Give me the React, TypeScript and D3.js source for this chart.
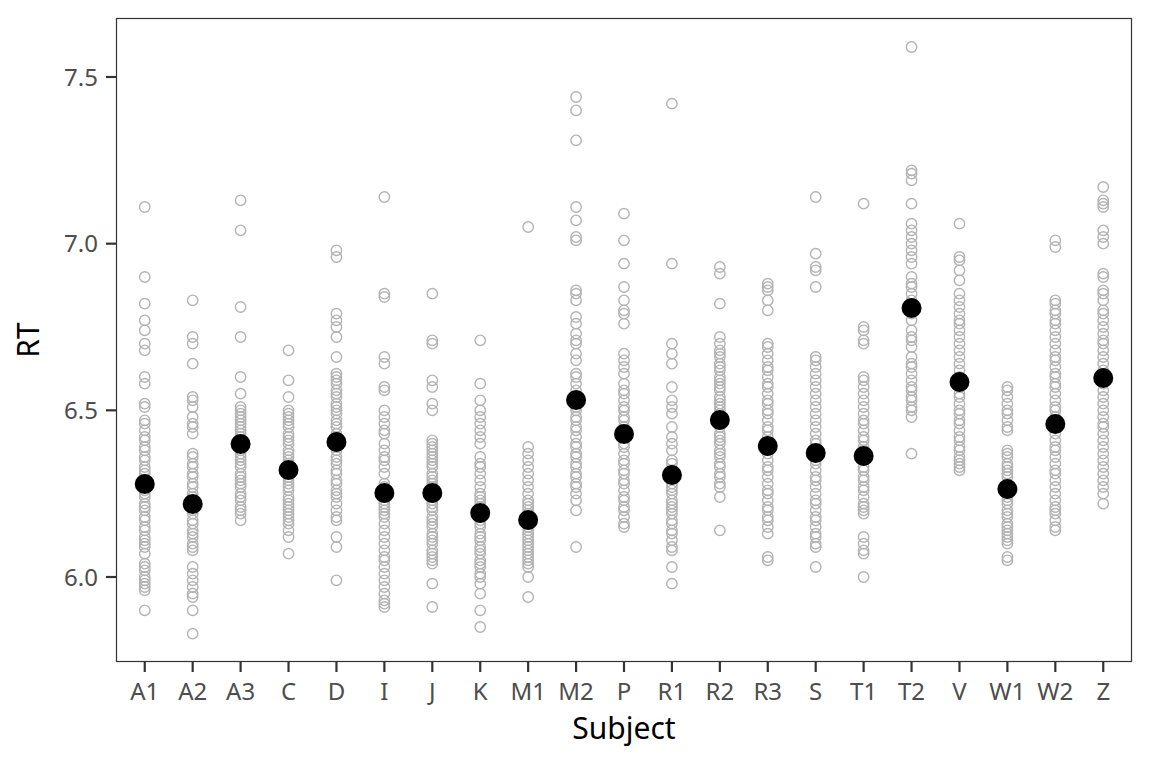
import React from "react";
import * as d3 from "d3";

const subjects = ["A1","A2","A3","C","D","I","J","K","M1","M2","P","R1","R2","R3","S","T1","T2","V","W1","W2","Z"];

const rtA1 = [7.11,6.90,6.82,6.77,6.74,6.70,6.68,6.60,6.58,6.52,6.51,6.47,6.46,6.44,6.42,6.41,6.39,6.38,6.36,6.35,6.33,6.32,6.31,6.29,6.28,6.26,6.25,6.24,6.22,6.21,6.20,6.18,6.17,6.15,6.14,6.12,6.11,6.10,6.09,6.07,6.04,6.03,6.02,6.00,5.99,5.98,5.97,5.96,5.90];
const rtA2 = [6.83,6.72,6.70,6.64,6.54,6.53,6.51,6.48,6.46,6.45,6.43,6.37,6.36,6.34,6.33,6.31,6.30,6.28,6.27,6.25,6.24,6.22,6.21,6.20,6.19,6.17,6.16,6.14,6.13,6.12,6.10,6.09,6.08,6.03,6.01,5.99,5.97,5.95,5.94,5.90,5.83];
const rtA3 = [7.13,7.04,6.81,6.72,6.60,6.55,6.51,6.50,6.49,6.48,6.47,6.46,6.45,6.44,6.43,6.42,6.41,6.40,6.39,6.38,6.37,6.36,6.35,6.34,6.33,6.31,6.30,6.29,6.28,6.27,6.25,6.24,6.23,6.21,6.20,6.19,6.17];
const rtC = [6.68,6.59,6.54,6.50,6.49,6.48,6.47,6.46,6.45,6.43,6.42,6.41,6.40,6.38,6.37,6.36,6.35,6.34,6.33,6.32,6.30,6.29,6.28,6.27,6.26,6.24,6.23,6.22,6.21,6.20,6.19,6.18,6.17,6.16,6.14,6.12,6.07];
const rtD = [6.98,6.96,6.79,6.77,6.75,6.72,6.66,6.61,6.60,6.59,6.58,6.56,6.55,6.54,6.52,6.51,6.50,6.49,6.47,6.46,6.45,6.43,6.42,6.41,6.39,6.38,6.36,6.35,6.34,6.32,6.31,6.29,6.28,6.26,6.25,6.24,6.22,6.20,6.18,6.17,6.12,6.09,5.99];
const rtI = [7.14,6.85,6.84,6.66,6.64,6.57,6.56,6.50,6.48,6.46,6.44,6.43,6.40,6.38,6.36,6.35,6.33,6.31,6.28,6.27,6.26,6.25,6.24,6.23,6.22,6.21,6.20,6.19,6.18,6.16,6.14,6.12,6.10,6.08,6.06,6.05,6.03,6.01,5.99,5.97,5.95,5.93,5.92,5.91];
const rtJ = [6.85,6.71,6.70,6.59,6.57,6.52,6.50,6.41,6.40,6.39,6.38,6.37,6.36,6.35,6.34,6.33,6.31,6.30,6.29,6.28,6.27,6.26,6.24,6.23,6.22,6.21,6.20,6.18,6.17,6.16,6.15,6.13,6.12,6.11,6.10,6.08,6.07,6.06,6.05,6.04,5.98,5.91];
const rtK = [6.71,6.58,6.53,6.50,6.48,6.46,6.44,6.42,6.40,6.36,6.34,6.33,6.31,6.29,6.27,6.25,6.24,6.23,6.22,6.21,6.19,6.18,6.17,6.16,6.15,6.13,6.12,6.11,6.09,6.08,6.07,6.05,6.04,6.03,6.01,6.00,5.98,5.95,5.90,5.85];
const rtM1 = [7.05,6.39,6.37,6.35,6.33,6.31,6.29,6.27,6.25,6.23,6.22,6.21,6.20,6.19,6.18,6.17,6.16,6.15,6.14,6.13,6.12,6.11,6.10,6.09,6.08,6.07,6.06,6.05,6.04,6.03,6.00,5.94];
const rtM2 = [7.44,7.40,7.31,7.11,7.07,7.02,7.01,6.86,6.85,6.83,6.78,6.76,6.73,6.71,6.70,6.67,6.65,6.61,6.60,6.58,6.56,6.54,6.53,6.51,6.50,6.48,6.47,6.45,6.44,6.42,6.40,6.39,6.37,6.36,6.34,6.33,6.31,6.30,6.28,6.27,6.25,6.23,6.20,6.09];
const rtP = [7.09,7.01,6.94,6.87,6.83,6.80,6.79,6.76,6.67,6.65,6.63,6.61,6.58,6.56,6.55,6.53,6.51,6.50,6.48,6.47,6.45,6.43,6.42,6.40,6.39,6.37,6.35,6.34,6.32,6.31,6.29,6.28,6.26,6.24,6.23,6.21,6.20,6.18,6.16,6.15];
const rtR1 = [7.42,6.94,6.70,6.67,6.64,6.57,6.53,6.51,6.49,6.45,6.42,6.40,6.38,6.35,6.34,6.32,6.31,6.30,6.28,6.27,6.26,6.25,6.23,6.22,6.21,6.20,6.19,6.17,6.16,6.14,6.13,6.11,6.09,6.08,6.03,5.98];
const rtR2 = [6.93,6.91,6.82,6.72,6.70,6.68,6.67,6.66,6.64,6.63,6.62,6.60,6.59,6.58,6.57,6.56,6.54,6.53,6.52,6.51,6.50,6.49,6.47,6.46,6.45,6.43,6.42,6.41,6.40,6.38,6.37,6.36,6.34,6.33,6.31,6.30,6.28,6.27,6.24,6.14];
const rtR3 = [6.88,6.87,6.86,6.83,6.80,6.70,6.69,6.67,6.65,6.63,6.62,6.60,6.58,6.57,6.55,6.53,6.52,6.50,6.49,6.47,6.45,6.44,6.42,6.40,6.39,6.37,6.35,6.33,6.32,6.30,6.28,6.26,6.25,6.23,6.21,6.20,6.18,6.17,6.15,6.13,6.06,6.05];
const rtS = [7.14,6.97,6.93,6.92,6.87,6.66,6.65,6.63,6.61,6.59,6.57,6.55,6.53,6.51,6.49,6.47,6.45,6.43,6.41,6.40,6.38,6.37,6.35,6.34,6.32,6.30,6.29,6.27,6.25,6.23,6.22,6.20,6.18,6.17,6.15,6.13,6.12,6.10,6.09,6.03];
const rtT1 = [7.12,6.75,6.74,6.71,6.70,6.60,6.59,6.57,6.55,6.53,6.51,6.49,6.47,6.46,6.44,6.42,6.41,6.39,6.38,6.36,6.35,6.33,6.32,6.30,6.29,6.27,6.26,6.24,6.22,6.21,6.20,6.19,6.12,6.10,6.08,6.07,6.00];
const rtT2 = [7.59,7.22,7.21,7.19,7.12,7.06,7.04,7.02,7.00,6.98,6.96,6.94,6.90,6.88,6.87,6.85,6.83,6.81,6.79,6.77,6.74,6.72,6.71,6.69,6.66,6.64,6.63,6.61,6.59,6.57,6.56,6.54,6.53,6.51,6.50,6.48,6.37];
const rtV = [7.06,6.96,6.95,6.92,6.89,6.85,6.83,6.81,6.79,6.77,6.76,6.74,6.72,6.70,6.68,6.66,6.64,6.62,6.60,6.59,6.57,6.55,6.54,6.52,6.50,6.49,6.47,6.46,6.44,6.42,6.41,6.39,6.38,6.36,6.35,6.34,6.33,6.32];
const rtW1 = [6.57,6.56,6.54,6.52,6.50,6.49,6.47,6.45,6.44,6.38,6.37,6.36,6.34,6.33,6.32,6.31,6.30,6.28,6.27,6.26,6.25,6.24,6.23,6.22,6.20,6.19,6.18,6.16,6.15,6.14,6.13,6.12,6.11,6.10,6.06,6.05];
const rtW2 = [7.01,6.99,6.83,6.82,6.80,6.79,6.77,6.76,6.74,6.72,6.70,6.68,6.66,6.65,6.63,6.61,6.60,6.58,6.57,6.55,6.53,6.51,6.50,6.48,6.46,6.45,6.43,6.41,6.39,6.38,6.36,6.34,6.32,6.31,6.29,6.27,6.25,6.23,6.21,6.20,6.19,6.17,6.15,6.14];
const rtZ = [7.17,7.13,7.12,7.11,7.04,7.02,7.00,6.91,6.90,6.86,6.85,6.83,6.80,6.79,6.77,6.75,6.73,6.71,6.70,6.68,6.66,6.64,6.62,6.60,6.58,6.56,6.54,6.52,6.50,6.48,6.46,6.45,6.43,6.41,6.39,6.37,6.35,6.33,6.31,6.29,6.27,6.25,6.22];

const observations = [rtA1,rtA2,rtA3,rtC,rtD,rtI,rtJ,rtK,rtM1,rtM2,rtP,rtR1,rtR2,rtR3,rtS,rtT1,rtT2,rtV,rtW1,rtW2,rtZ];

const means = [6.279,6.219,6.399,6.321,6.405,6.252,6.252,6.192,6.171,6.531,6.429,6.306,6.471,6.393,6.372,6.363,6.807,6.585,6.264,6.459,6.597];

const yTicks = [6.0, 6.5, 7.0, 7.5];

const W = 1152, H = 768;
const M = { left: 116, right: 20, top: 18, bottom: 106 };
const FONT = "'Noto Sans', sans-serif";
const TICK = 10;

export default function App() {
  const pw = W - M.left - M.right;
  const ph = H - M.top - M.bottom;
  const x = d3.scalePoint<string>().domain(subjects).range([0, pw]).padding(0.6);
  const y = d3.scaleLinear().domain([5.745, 7.677]).range([ph, 0]);

  return (
    <svg width={W} height={H} style={{ position: "absolute", left: 0, top: 0, background: "#fff" }}>
      <g transform={`translate(${M.left},${M.top})`}>
        <rect x={0} y={0} width={pw} height={ph} fill="#fff" />
        {observations.map((vals, i) =>
          vals.map((v, j) => (
            <circle key={`${i}-${j}`} cx={x(subjects[i])} cy={y(v)} r={5.2}
              fill="none" stroke="#b3b3b3" strokeWidth={1.4} />
          ))
        )}
        {means.map((m, i) => (
          <circle key={`m${i}`} cx={x(subjects[i])} cy={y(m)} r={10} fill="#000" />
        ))}
        <rect x={0.5} y={0.5} width={pw - 1} height={ph - 1} fill="none" stroke="#333333" strokeWidth={1.2} />
        {subjects.map((s) => (
          <g key={s} transform={`translate(${x(s)},${ph})`}>
            <line y1={0} y2={TICK} stroke="#333333" strokeWidth={2.2} />
            <text y={38} textAnchor="middle" fontFamily={FONT} fontSize={24} fill="#4d4d4d">{s}</text>
          </g>
        ))}
        {yTicks.map((t) => (
          <g key={t} transform={`translate(0,${y(t)})`}>
            <line x1={-TICK} x2={0} stroke="#333333" strokeWidth={2.2} />
            <text x={-TICK - 8} dy="0.36em" textAnchor="end" fontFamily={FONT} fontSize={24} fill="#4d4d4d">{t.toFixed(1)}</text>
          </g>
        ))}
        <text x={pw / 2} y={ph + 77} textAnchor="middle" fontFamily={FONT} fontSize={30} fill="#000">Subject</text>
        <text transform={`translate(${-77},${ph / 2}) rotate(-90)`} textAnchor="middle" fontFamily={FONT} fontSize={30} fill="#000">RT</text>
      </g>
    </svg>
  );
}
